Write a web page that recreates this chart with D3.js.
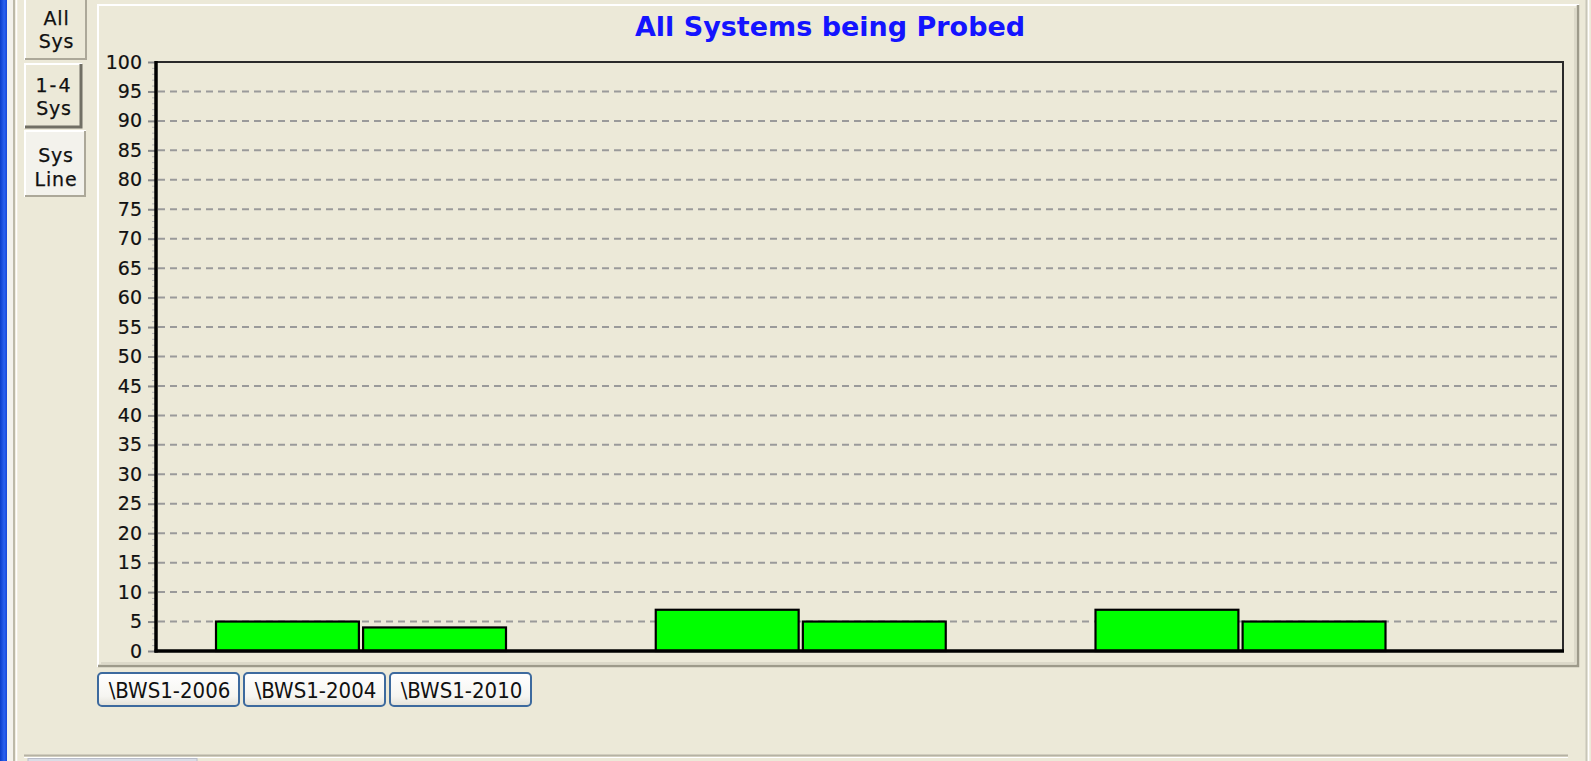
<!DOCTYPE html>
<html>
<head>
<meta charset="utf-8">
<script src="https://cdn.jsdelivr.net/npm/d3@7"></script>
<style>
  html, body { margin: 0; padding: 0; background: #ece9d8; overflow: hidden; }
  svg { display: block; }
</style>
</head>
<body>
<svg id="chart" width="1591" height="761"></svg>
<script>
// ---------- data ----------
const categories = ["\\BWS1-2006", "\\BWS1-2004", "\\BWS1-2010"];
const seriesNames = ["s1", "s2"];
const series1 = [5, 7, 7];
const series2 = [4, 5, 5];
const yTickValues = [0, 5, 10, 15, 20, 25, 30, 35, 40, 45, 50, 55, 60, 65, 70, 75, 80, 85, 90, 95, 100];
const title = "All Systems being Probed";
const tabLabels = [["All", "Sys"], ["1-4", "Sys"], ["Sys", "Line"]];
const buttonLabels = ["\\BWS1-2006", "\\BWS1-2004", "\\BWS1-2010"];

// ---------- layout ----------
const W = 1591, H = 761;
const plot = { left: 156, right: 1563, top: 62, bottom: 651 };
const panel = { left: 98, right: 1579, top: 5, bottom: 667 };
const BG = "#ece9d8";

const svg = d3.select("#chart");
const defs = svg.append("defs");

// gradients
const blueGrad = defs.append("linearGradient").attr("id", "blueGrad").attr("x1", 0).attr("x2", 1).attr("y1", 0).attr("y2", 0);
blueGrad.append("stop").attr("offset", "0%").attr("stop-color", "#0a3cc8");
blueGrad.append("stop").attr("offset", "60%").attr("stop-color", "#2a62f0");
blueGrad.append("stop").attr("offset", "100%").attr("stop-color", "#1848d8");

const btnGrad = defs.append("linearGradient").attr("id", "btnGrad").attr("x1", 0).attr("x2", 0).attr("y1", 0).attr("y2", 1);
btnGrad.append("stop").attr("offset", "0%").attr("stop-color", "#ffffff");
btnGrad.append("stop").attr("offset", "70%").attr("stop-color", "#f6f5f1");
btnGrad.append("stop").attr("offset", "100%").attr("stop-color", "#e3e1d8");

// background
svg.append("rect").attr("width", W).attr("height", H).attr("fill", BG);

// ---------- window frame left ----------
svg.append("rect").attr("x", 0).attr("y", 0).attr("width", 7).attr("height", H).attr("fill", "url(#blueGrad)");
svg.append("rect").attr("x", 7).attr("y", 0).attr("width", 6).attr("height", H).attr("fill", "#f3f2ec");
svg.append("line").attr("x1", 14).attr("x2", 14).attr("y1", 0).attr("y2", H).attr("stroke", "#aca899").attr("stroke-width", 1.5);
svg.append("line").attr("x1", 16.5).attr("x2", 16.5).attr("y1", 0).attr("y2", H).attr("stroke", "#ffffff").attr("stroke-width", 1.5);

// right frame
svg.append("line").attr("x1", 1586.5).attr("x2", 1586.5).attr("y1", 0).attr("y2", H).attr("stroke", "#c8c6b8").attr("stroke-width", 2);
svg.append("line").attr("x1", 1588.5).attr("x2", 1588.5).attr("y1", 0).attr("y2", H).attr("stroke", "#ffffff").attr("stroke-width", 1.5);

// bottom frame line
svg.append("line").attr("x1", 24).attr("x2", 1568).attr("y1", 755.5).attr("y2", 755.5).attr("stroke", "#b5b2a3").attr("stroke-width", 2);
svg.append("line").attr("x1", 24).attr("x2", 1568).attr("y1", 757.5).attr("y2", 757.5).attr("stroke", "#ffffff").attr("stroke-width", 1);
svg.append("rect").attr("x", 28).attr("y", 758.5).attr("width", 169).attr("height", 4).attr("fill", "#d9dde6").attr("stroke", "#b8bcc8").attr("stroke-width", 1);

// ---------- side tabs ----------
const tabs = [
  { x: 24, y: -3, w: 63, h: 63, fill: BG, shadow: "#aca899" },
  { x: 24, y: 63, w: 58, h: 65, fill: BG, shadow: "#716f64" },
  { x: 24, y: 130, w: 62, h: 67, fill: "#f3f2ec", shadow: "#aca899" }
];
const tabG = svg.append("g");
tabs.forEach((t, i) => {
  const g = tabG.append("g");
  g.append("rect").attr("x", t.x).attr("y", t.y).attr("width", t.w).attr("height", t.h).attr("fill", t.fill);
  g.append("path").attr("d", `M${t.x + 1},${t.y + t.h} L${t.x + 1},${t.y + 1} L${t.x + t.w},${t.y + 1}`)
    .attr("fill", "none").attr("stroke", "#ffffff").attr("stroke-width", 2);
  g.append("path").attr("d", `M${t.x + t.w - 1},${t.y + 1} L${t.x + t.w - 1},${t.y + t.h - 1} L${t.x + 1},${t.y + t.h - 1}`)
    .attr("fill", "none").attr("stroke", t.shadow).attr("stroke-width", i === 1 ? 3 : 2);
  const lines = tabLabels[i];
  const cx = t.x + t.w / 2 + 1;
  const baseY = [[25, 48], [92, 115], [162, 186]][i];
  lines.forEach((txt, j) => {
    g.append("text").attr("x", cx).attr("y", baseY[j])
      .attr("text-anchor", "middle")
      .attr("font-family", "DejaVu Sans, Verdana, sans-serif")
      .attr("font-size", 19)
      .attr("letter-spacing", txt === "1-4" ? 2 : 0.8)
      .attr("fill", "#111")
      .attr("stroke", "#111").attr("stroke-width", 0.25)
      .text(txt);
  });
});

// ---------- chart panel ----------
svg.append("rect").attr("x", panel.left).attr("y", panel.top)
  .attr("width", panel.right - panel.left).attr("height", panel.bottom - panel.top).attr("fill", BG);
svg.append("path").attr("d", `M${panel.left},${panel.bottom} L${panel.left},${panel.top} L${panel.right},${panel.top}`)
  .attr("fill", "none").attr("stroke", "#ffffff").attr("stroke-width", 2);
svg.append("path").attr("d", `M${panel.right - 1},${panel.top} L${panel.right - 1},${panel.bottom - 1} L${panel.left},${panel.bottom - 1}`)
  .attr("fill", "none").attr("stroke", "#9d9a8a").attr("stroke-width", 2.5);
svg.append("path").attr("d", `M${panel.right - 4},${panel.top + 3} L${panel.right - 4},${panel.bottom - 4} L${panel.left + 3},${panel.bottom - 4}`)
  .attr("fill", "none").attr("stroke", "#d6d3c4").attr("stroke-width", 1.5);

// title
svg.append("text")
  .attr("x", 830).attr("y", 36)
  .attr("text-anchor", "middle")
  .attr("font-family", "DejaVu Sans, Verdana, sans-serif")
  .attr("font-weight", "bold")
  .attr("font-size", 27)
  .attr("fill", "#1414ff")
  .text(title);

// ---------- scales ----------
const y = d3.scaleLinear().domain([0, 100]).range([plot.bottom, plot.top]);
const x = d3.scaleBand().domain(categories).range([plot.left + 59, plot.left + 1230.5]).paddingInner(0.336).paddingOuter(0);
const xInner = d3.scaleBand().domain(seriesNames).range([0, x.bandwidth()]).paddingInner(0.015);

// gridlines
svg.append("g").selectAll("line")
  .data(yTickValues.filter(v => v > 0 && v < 100))
  .join("line")
  .attr("x1", plot.left + 2).attr("x2", plot.right - 6)
  .attr("y1", d => y(d)).attr("y2", d => y(d))
  .attr("stroke", "#9a9a9a").attr("stroke-width", 2)
  .attr("stroke-dasharray", "7,5");

// minor ticks
svg.append("g").selectAll("line")
  .data(d3.range(0, 100, 1))
  .join("line")
  .attr("x1", plot.left - 4).attr("x2", plot.left)
  .attr("y1", d => y(d) + 0.5).attr("y2", d => y(d) + 0.5)
  .attr("stroke", "#b4b4b4").attr("stroke-width", 1);

// y axis
const yAxis = d3.axisLeft(y).tickValues(yTickValues).tickSize(8).tickPadding(6).tickFormat(d3.format("d"));
const yAxisG = svg.append("g").attr("transform", `translate(${plot.left},0)`).call(yAxis);
yAxisG.select(".domain").remove();
yAxisG.selectAll(".tick line").attr("stroke", "#8a8a8a").attr("stroke-width", 2);
yAxisG.selectAll(".tick text")
  .attr("font-family", "DejaVu Sans, Verdana, sans-serif")
  .attr("font-size", 19)
  .attr("fill", "#111")
  .attr("stroke", "#111").attr("stroke-width", 0.2);

// frame: top and right
svg.append("path").attr("d", `M${plot.left},${plot.top} L${plot.right},${plot.top} L${plot.right},${plot.bottom}`)
  .attr("fill", "none").attr("stroke", "#2a2a2a").attr("stroke-width", 2);

// bars
const barG = svg.append("g");
categories.forEach((c, i) => {
  const vals = [series1[i], series2[i]];
  barG.selectAll(null)
    .data(seriesNames.map((s, j) => ({ s, v: vals[j] })))
    .join("rect")
    .attr("x", d => x(c) + xInner(d.s) + 1)
    .attr("y", d => y(d.v))
    .attr("width", xInner.bandwidth() - 2)
    .attr("height", d => y(0) - y(d.v))
    .attr("fill", "#00ff00")
    .attr("stroke", "#000")
    .attr("stroke-width", 2.2);
});

// axes lines (thick black)
svg.append("line").attr("x1", plot.left).attr("x2", plot.left).attr("y1", plot.top - 1).attr("y2", plot.bottom + 1.5)
  .attr("stroke", "#000").attr("stroke-width", 3.5);
svg.append("line").attr("x1", plot.left - 1.5).attr("x2", plot.right + 1).attr("y1", plot.bottom).attr("y2", plot.bottom)
  .attr("stroke", "#000").attr("stroke-width", 3.5);

// ---------- buttons ----------
const btnG = svg.append("g");
buttonLabels.forEach((lab, i) => {
  const bx = 98 + i * 146, by = 673, bw = 141, bh = 33;
  btnG.append("rect").attr("x", bx).attr("y", by).attr("width", bw).attr("height", bh)
    .attr("rx", 4).attr("ry", 4)
    .attr("fill", "url(#btnGrad)")
    .attr("stroke", "#3d6a9e").attr("stroke-width", 2);
  btnG.append("text").attr("x", bx + bw / 2 + 1).attr("y", by + bh / 2 + 1)
    .attr("text-anchor", "middle").attr("dominant-baseline", "central")
    .attr("font-family", "DejaVu Sans Condensed, DejaVu Sans, sans-serif")
    .attr("font-stretch", "condensed")
    .attr("font-size", 22)
    .attr("fill", "#111")
    .text(lab);
});
</script>
</body>
</html>
